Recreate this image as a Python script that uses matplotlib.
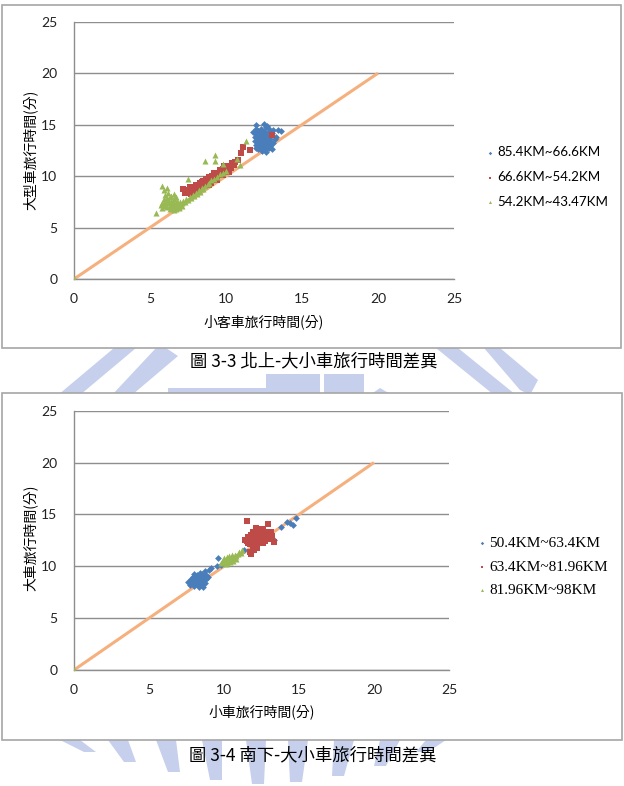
import matplotlib
matplotlib.use("Agg")
import matplotlib.pyplot as plt
from matplotlib.patches import Rectangle, Polygon

CJK = ["Noto Sans CJK TC", "DejaVu Sans"]
SANS = ["Lato", "DejaVu Sans"]
SERIF = ["Liberation Serif", "DejaVu Serif"]

# ---- data: chart 1 (北上) ----
n_blue = [(12.0, 15.0), (12.5, 15.1), (12.6, 14.8), (12.3, 14.6), (12.1, 14.4), (12.8, 14.6), (13.1, 14.5),
          (13.4, 14.5), (13.6, 14.4), (12.0, 14.1), (11.9, 13.8), (12.2, 13.9), (12.4, 14.2), (12.7, 14.1),
          (12.9, 13.9), (13.0, 14.2), (12.3, 13.6), (12.5, 13.7), (12.6, 13.4), (12.8, 13.5), (12.1, 13.3),
          (12.4, 13.2), (12.7, 13.1), (12.9, 13.3), (13.1, 13.2), (12.2, 12.9), (12.5, 12.8), (12.8, 12.7),
          (12.4, 12.6), (12.6, 12.3), (12.0, 13.0), (11.9, 13.4), (12.3, 13.0), (12.6, 13.9), (12.5, 14.4),
          (12.2, 14.0), (12.9, 12.9), (13.2, 13.6), (12.7, 13.7), (12.4, 13.9), (12.1, 13.7), (12.3, 14.3),
          (12.8, 14.3), (12.6, 12.6), (12.0, 12.7), (12.4, 12.4), (13.0, 12.6), (12.2, 13.5), (12.6, 13.2),
          (12.8, 13.0), (11.8, 14.3), (12.0, 14.6), (12.7, 14.9), (12.3, 12.8), (12.5, 13.3), (12.9, 13.6),
          (13.3, 13.8), (12.1, 12.6), (12.4, 13.5), (12.6, 14.1)]
n_red = [(7.2, 8.7), (7.3, 8.4), (7.5, 8.6), (7.6, 8.9), (7.8, 8.5), (7.9, 8.8), (8.0, 9.1), (8.1, 8.7),
         (8.2, 9.0), (8.3, 9.3), (8.4, 8.9), (8.5, 9.5), (8.6, 9.2), (8.7, 9.7), (8.8, 9.4), (8.9, 9.9),
         (9.0, 9.6), (9.1, 10.0), (9.2, 9.8), (9.3, 10.2), (9.4, 9.9), (9.5, 10.3), (9.6, 10.6), (9.7, 10.2),
         (9.8, 10.7), (9.9, 10.5), (10.0, 10.9), (10.1, 10.6), (10.2, 11.0), (10.3, 10.8), (10.4, 11.3),
         (10.5, 11.1), (10.6, 11.4), (10.8, 11.6), (11.0, 12.2), (11.1, 12.8), (11.6, 12.5), (13.0, 14.0),
         (8.0, 8.5), (8.6, 9.0), (9.0, 9.3), (9.4, 9.6), (7.7, 8.3), (8.2, 8.6), (8.9, 9.1), (9.8, 10.1),
         (10.2, 10.4), (8.4, 9.4), (9.2, 10.3), (9.9, 11.0)]
n_green = [(5.8, 7.4), (5.9, 7.1), (5.9, 7.8), (6.0, 7.3), (6.0, 7.6), (6.1, 7.0), (6.1, 7.9), (6.2, 7.4),
           (6.2, 7.7), (6.3, 7.1), (6.3, 8.0), (6.4, 7.3), (6.4, 7.6), (6.5, 6.9), (6.5, 7.5), (6.6, 7.2),
           (6.6, 7.8), (6.7, 6.8), (6.7, 7.4), (6.8, 7.1), (6.8, 7.6), (6.9, 7.0), (6.9, 7.3), (7.0, 7.5),
           (7.0, 7.2), (7.1, 7.4), (7.2, 7.6), (7.3, 7.5), (7.4, 7.8), (7.5, 7.7), (7.6, 8.0), (7.7, 7.9),
           (7.8, 8.2), (7.9, 8.1), (8.0, 8.4), (8.1, 8.3), (8.2, 8.6), (8.3, 8.5), (8.4, 8.8), (8.5, 8.7),
           (8.6, 9.0), (8.8, 9.2), (8.9, 9.3), (9.0, 9.6), (9.2, 9.7), (9.4, 9.9), (9.6, 10.2), (9.8, 10.3),
           (10.0, 10.5), (6.0, 8.2), (6.2, 8.4), (5.9, 8.6), (6.4, 8.1), (6.6, 6.7), (6.3, 6.8), (6.9, 6.9),
           (7.1, 7.1), (6.5, 7.0), (6.1, 7.5), (5.7, 7.2), (5.8, 6.9), (6.7, 8.0),
           (5.4, 6.45), (5.8, 9.0), (6.1, 8.8), (6.6, 8.3), (7.5, 9.7), (8.6, 11.5), (9.3, 12.0), (9.3, 11.5),
           (9.8, 11.2), (10.7, 11.7), (10.9, 11.1), (11.3, 13.4), (0.0, 0.0)]
north_labels = ["85.4KM~66.6KM", "66.6KM~54.2KM", "54.2KM~43.47KM"]

# ---- data: chart 2 (南下) ----
s_blue = [(7.6, 8.5), (7.7, 8.2), (7.8, 8.8), (7.9, 8.4), (7.9, 9.0), (8.0, 8.1), (8.0, 8.6), (8.1, 8.9),
          (8.1, 8.3), (8.2, 8.7), (8.2, 9.2), (8.3, 8.0), (8.3, 8.5), (8.4, 8.8), (8.4, 9.4), (8.5, 8.3),
          (8.5, 8.9), (8.6, 8.6), (8.6, 9.1), (8.7, 8.4), (8.7, 9.5), (8.8, 8.8), (8.8, 9.2), (8.9, 9.0),
          (9.0, 9.6), (8.2, 8.4), (8.0, 9.3), (8.4, 8.2), (8.6, 8.0), (7.8, 8.6), (8.3, 9.0), (8.5, 9.3),
          (9.1, 9.8), (9.5, 10.0), (9.6, 10.8), (9.8, 10.1), (11.3, 11.6), (11.8, 11.4), (12.5, 12.4),
          (13.3, 12.5), (13.8, 13.8), (14.2, 14.3), (14.6, 14.0), (14.8, 14.7), (14.4, 14.2), (12.9, 12.9)]
s_red = [(11.5, 12.4), (11.6, 12.8), (11.7, 12.1), (11.8, 12.6), (11.8, 13.0), (11.9, 11.9), (12.0, 12.4),
         (12.0, 12.9), (12.1, 12.2), (12.1, 13.2), (12.2, 12.6), (12.2, 11.8), (12.3, 12.9), (12.3, 12.3),
         (12.4, 12.7), (12.4, 13.1), (12.5, 12.5), (12.5, 13.4), (12.6, 12.8), (12.6, 12.2), (12.7, 13.0),
         (12.8, 12.6), (12.8, 13.3), (12.9, 12.9), (13.0, 13.1), (13.0, 12.6), (13.1, 13.3), (13.2, 12.9),
         (11.4, 12.5), (11.6, 12.2), (11.9, 12.3), (12.0, 11.6), (11.7, 11.4), (11.5, 14.4), (12.9, 14.1),
         (12.1, 13.7), (13.3, 12.3), (11.8, 11.2), (12.3, 13.6), (12.6, 13.6), (12.2, 12.0), (12.7, 12.4),
         (11.9, 13.3)]
s_green = [(9.8, 10.3), (9.9, 10.6), (10.0, 10.4), (10.0, 10.8), (10.1, 10.2), (10.1, 10.6), (10.2, 10.9),
           (10.2, 10.5), (10.3, 10.7), (10.3, 11.0), (10.4, 10.4), (10.4, 10.8), (10.5, 10.6), (10.5, 11.1),
           (10.6, 10.9), (10.6, 10.5), (10.7, 10.8), (10.7, 11.1), (10.8, 11.0), (10.9, 11.2), (11.0, 11.4),
           (11.1, 11.3), (11.2, 11.6), (10.8, 10.7), (10.2, 10.3), (0.0, 0.0)]
south_labels = ["50.4KM~63.4KM", "63.4KM~81.96KM", "81.96KM~98KM"]

diag_x = [0, 20]
diag_y = [0, 20]
ticks = [0, 5, 10, 15, 20, 25]

colors = ["#4A7EBB", "#BE4B48", "#98B954"]
markers = ["D", "s", "^"]
sizes = [12, 15, 19]

W, H = 624, 786
fig = plt.figure(figsize=(W / 100, H / 100), dpi=100)

# page background with faint watermark and chart frames (pixel coordinates)
bg = fig.add_axes([0, 0, 1, 1], zorder=0)
bg.set_xlim(0, W)
bg.set_ylim(H, 0)
bg.axis("off")
wm = "#c6d0ec"
shapes = [
    [(58, 395), (80, 395), (136, 348), (114, 348)],
    [(112, 395), (132, 395), (178, 356), (166, 348), (156, 348)],
    [(168, 388), (300, 388), (300, 395), (168, 395)],
    [(266, 374), (320, 374), (320, 395), (266, 395)],
    [(324, 374), (364, 374), (364, 395), (324, 395)],
    [(370, 395), (380, 388), (392, 395)],
    [(436, 348), (458, 348), (516, 395), (494, 395)],
    [(484, 348), (500, 348), (538, 380), (530, 395), (520, 390)],
]
for cx_top, cx_bot, ybot in [(70, 90, 752), (118, 130, 762), (166, 174, 772), (212, 216, 780),
                              (256, 258, 784), (298, 296, 782), (344, 338, 776), (390, 380, 766),
                              (436, 422, 752)]:
    shapes.append([(cx_top - 10, 740), (cx_top + 10, 740), (cx_bot + 6, ybot), (cx_bot - 6, ybot)])
for pts in shapes:
    bg.add_patch(Polygon(pts, closed=True, facecolor=wm, edgecolor="none"))
for (x0, y0, x1, y1) in [(2, 5, 621, 348), (2, 393, 622, 740)]:
    bg.add_patch(Rectangle((x0, y0), x1 - x0, y1 - y0, facecolor="white", edgecolor="#a6a6a6", lw=1.2))


def chart(rect, series, labels, leg_font, leg_size, leg_anchor, leg_space):
    ax = fig.add_axes(rect, zorder=2)
    ax.set_facecolor("none")
    ax.set_xlim(0, 25)
    ax.set_ylim(0, 25)
    ax.set_xticks(ticks)
    ax.set_yticks(ticks)
    ax.grid(axis="y", color="#8e8e8e", lw=1.0)
    ax.set_axisbelow(True)
    for s in ["top", "right"]:
        ax.spines[s].set_visible(False)
    for s in ["left", "bottom"]:
        ax.spines[s].set_color("#8e8e8e")
        ax.spines[s].set_linewidth(1.0)
    ax.tick_params(length=0, labelsize=10, colors="#222222")
    ax.tick_params(axis="x", pad=10)
    ax.tick_params(axis="y", pad=12)
    for lab in ax.get_xticklabels() + ax.get_yticklabels():
        lab.set_family(SANS)
    ax.plot(diag_x, diag_y, color="#F5B07E", lw=2.2, zorder=2, solid_capstyle="butt")
    for pts, c, m, sz, lab in zip(series, colors, markers, sizes, labels):
        xs = [p[0] for p in pts]
        ys = [p[1] for p in pts]
        ax.scatter(xs, ys, s=sz, marker=m, color=c, linewidths=0, label=lab, zorder=3)
    ax.legend(loc="center left", bbox_to_anchor=leg_anchor, bbox_transform=fig.transFigure,
              frameon=False, handletextpad=0.1, handlelength=0.8, labelspacing=leg_space,
              markerscale=0.5, prop={"family": leg_font, "size": leg_size})
    return ax


chart([74 / W, 1 - 279 / H, 380 / W, 257.3 / H], [n_blue, n_red, n_green], north_labels,
      SANS, 9.6, (473 / W, 1 - 177 / H), 0.95)
chart([74 / W, 1 - 670 / H, 375 / W, 259.3 / H], [s_blue, s_red, s_green], south_labels,
      SERIF, 11, (462 / W, 1 - 567 / H), 0.65)

# axis titles and captions
bg.text(264, 322, "小客車旅行時間(分)", family=CJK, fontsize=10, ha="center", va="center")
bg.text(30, 150, "大型車旅行時間(分)", family=CJK, fontsize=10, ha="center", va="center", rotation=90)
bg.text(262, 712, "小車旅行時間(分)", family=CJK, fontsize=10, ha="center", va="center")
bg.text(30, 538, "大車旅行時間(分)", family=CJK, fontsize=10, ha="center", va="center", rotation=90)
bg.text(314, 361, "圖 3-3 北上-大小車旅行時間差異", family=CJK, fontsize=12.5, ha="center", va="center")
bg.text(313, 755, "圖 3-4 南下-大小車旅行時間差異", family=CJK, fontsize=12.5, ha="center", va="center")

fig.savefig("out.png", dpi=100)
